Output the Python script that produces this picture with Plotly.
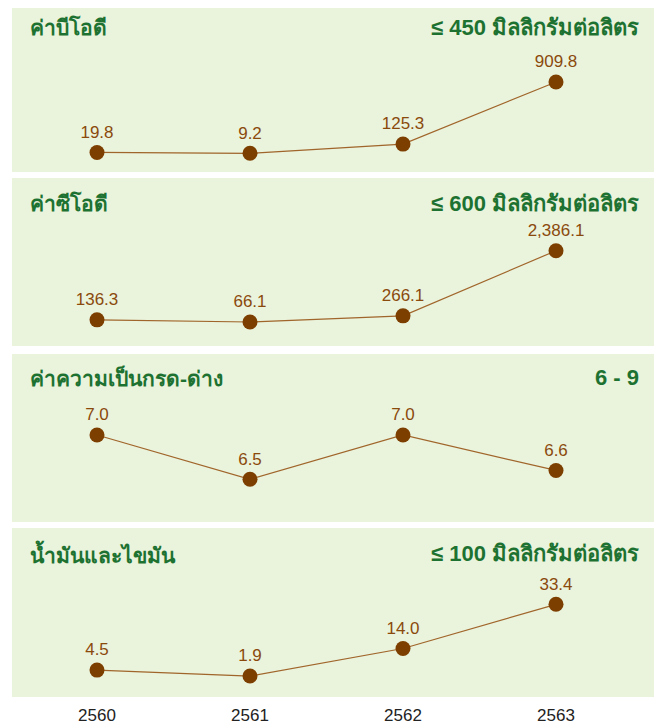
import plotly.graph_objects as go

years = [2560, 2561, 2562, 2563]
titles = ["ค่าบีโอดี", "ค่าซีโอดี", "ค่าความเป็นกรด-ด่าง", "น้ำมันและไขมัน"]
standards = ["≤ 450 มิลลิกรัมต่อลิตร", "≤ 600 มิลลิกรัมต่อลิตร", "6 - 9", "≤ 100 มิลลิกรัมต่อลิตร"]
bod = [19.8, 9.2, 125.3, 909.8]
cod = [136.3, 66.1, 266.1, 2386.1]
ph = [7.0, 6.5, 7.0, 6.6]
oil = [4.5, 1.9, 14.0, 33.4]
series = [bod, cod, ph, oil]
labels = [
    ["19.8", "9.2", "125.3", "909.8"],
    ["136.3", "66.1", "266.1", "2,386.1"],
    ["7.0", "6.5", "7.0", "6.6"],
    ["4.5", "1.9", "14.0", "33.4"],
]

# the page body has an 8px margin; work in page pixels and subtract it
OFF = 8
W, H = 662 - OFF, 725 - OFF
panels = [(8, 172), (178, 346), (354, 522), (528, 697)]   # page px (top, bottom)
yranges = [(-227, 1844), (-715, 4752), (6.018, 7.914), (-7.3, 66.9)]
title_y = [27, 203, 377, 553]

GREEN_BG = "#eaf3dc"
TITLE = "#1d7231"
BROWN = "#7d3f00"
LINE = "#a0652a"

fig = go.Figure()
layout = dict(
    width=W, height=H,
    margin=dict(l=0, r=0, t=0, b=0, autoexpand=False),
    paper_bgcolor="white",
    plot_bgcolor=GREEN_BG,
    showlegend=False,
    font=dict(family="Liberation Sans, Arial, sans-serif"),
)
x0, x1 = 12 - OFF, 655 - OFF
xdom = [x0 / W, x1 / W]
xr = [2560 - (97 - 12) / 153.0, 2563 + (655 - 556) / 153.0]
annotations = []
for i, (vals, labs) in enumerate(zip(series, labels)):
    n = i + 1
    xa = "x" if n == 1 else f"x{n}"
    ya = "y" if n == 1 else f"y{n}"
    fig.add_trace(go.Scatter(
        x=years, y=vals, text=labs, mode="lines+markers+text",
        textposition="top center",
        textfont=dict(size=17, color="#8a4a0c", family="Liberation Sans, Arial, sans-serif"),
        line=dict(color=LINE, width=1.2),
        marker=dict(size=15, color=BROWN),
        cliponaxis=False,
        xaxis=xa, yaxis=ya, hoverinfo="skip",
    ))
    top, bot = panels[i]
    top -= OFF
    bot -= OFF
    layout[f"xaxis{'' if n == 1 else n}"] = dict(
        domain=xdom, range=xr, anchor=ya,
        showgrid=False, zeroline=False, showline=False,
        tickvals=years if n == 4 else [],
        ticktext=[str(y) for y in years] if n == 4 else [],
        showticklabels=(n == 4), ticks="", automargin=False,
        ticklabelstandoff=6,
        tickfont=dict(size=17, color="#222222"),
    )
    layout[f"yaxis{'' if n == 1 else n}"] = dict(
        domain=[(H - bot) / H, (H - top) / H], range=list(yranges[i]), anchor=xa,
        showgrid=False, zeroline=False, showline=False, showticklabels=False,
    )
    ty = title_y[i] - OFF
    annotations.append(dict(
        x=(28 - OFF) / W, y=(H - ty) / H, xref="paper", yref="paper",
        text="<b>" + titles[i] + "</b>", showarrow=False, xanchor="left", yanchor="middle",
        font=dict(size=21, color=TITLE),
    ))
    annotations.append(dict(
        x=(641 - OFF) / W, y=(H - ty) / H, xref="paper", yref="paper",
        text="<b>" + standards[i] + "</b>", showarrow=False, xanchor="right", yanchor="middle",
        font=dict(size=22, color=TITLE),
    ))
layout["annotations"] = annotations
fig.update_layout(**layout)
fig.write_html("out.html")
